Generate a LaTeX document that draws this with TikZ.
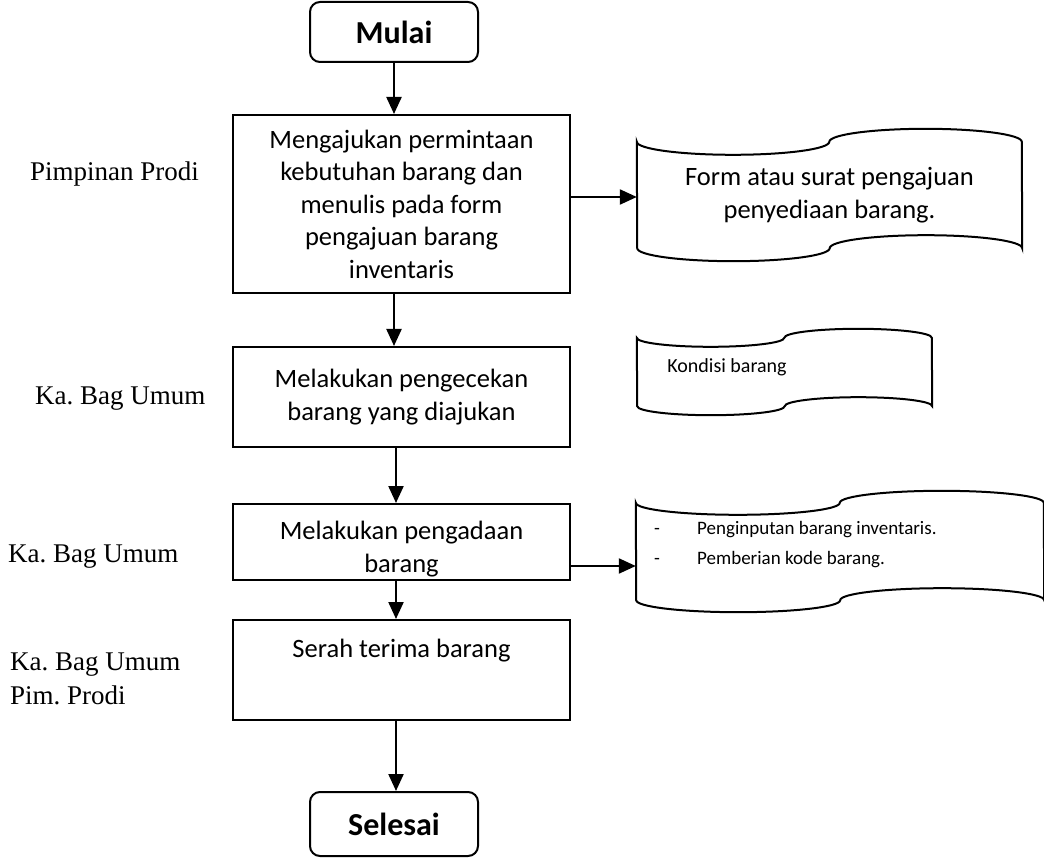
\documentclass[tikz,border=0pt]{standalone}
\usepackage{fontspec}
\setmainfont{Carlito}
\newfontfamily\rolefont{Liberation Serif}
\usetikzlibrary{arrows.meta}
\frenchspacing

% outline of a punched-tape document drawn around a node: #2 = quarter width, #3 = wave depth
\newcommand\tapeoutline[3]{%
  \draw[line width=2pt] (#1.north west)
    arc[start angle=180,end angle=360,x radius=#2pt,y radius=#3pt]
    arc[start angle=180,end angle=0,x radius=#2pt,y radius=#3pt]
    -- (#1.south east)
    arc[start angle=0,end angle=180,x radius=#2pt,y radius=#3pt]
    arc[start angle=0,end angle=-180,x radius=#2pt,y radius=#3pt]
    -- cycle;}

\begin{document}
\begin{tikzpicture}[x=1pt,y=-1pt,
  box/.style={draw, line width=2pt, rectangle, inner sep=0pt, align=center,
    font=\fontsize{26.5}{32.5}\selectfont},
  boxtext/.style={inner sep=0pt, align=center, font=\fontsize{26.5}{32.5}\selectfont},
  term/.style={draw, line width=2pt, rounded corners=10pt, inner sep=0pt,
    font=\fontsize{32}{38}\selectfont\bfseries},
  docbox/.style={inner sep=0pt, align=center},
  role/.style={anchor=base west, inner sep=0pt, align=left,
    font=\rolefont\fontsize{27}{34}\selectfont},
  arr/.style={line width=2.2pt, -{Triangle[length=17pt,width=15pt]}},
]
\useasboundingbox (0,0) rectangle (1044,866);
\fill[white] (0,0) rectangle (1044,866);
\clip (0,0) rectangle (1044,866);

% process column
\node[term, minimum width=168pt, minimum height=60pt] (m) at (394,32) {Mulai};
\node[box, minimum width=337pt, minimum height=178pt] (b1) at (401.5,204)
  {Mengajukan permintaan\\kebutuhan barang dan\\menulis pada form\\pengajuan barang\\inventaris};
\node[box, minimum width=337pt, minimum height=100pt] (b2) at (401.5,397)
  {Melakukan pengecekan\\barang yang diajukan};
\node[box, minimum width=337pt, minimum height=76pt] (b3) at (401.5,542) {};
\node[boxtext] (b3t) at (401.5,549) {Melakukan pengadaan\\barang};
\node[box, minimum width=337pt, minimum height=100pt] (b4) at (401.5,670) {};
\node[boxtext, anchor=north] (b4t) at ([yshift=-20pt]b4.north) {Serah terima barang};
\node[term, minimum width=168pt, minimum height=64pt] (s) at (394,824) {Selesai};

% documents
\node[docbox, minimum width=385pt, minimum height=106pt, font=\fontsize{26.5}{32.5}\selectfont]
  (d1) at (829.5,195) {Form atau surat pengajuan\\penyediaan barang.};
\tapeoutline{d1}{96.25}{13}
\node[docbox, minimum width=295pt, minimum height=68pt] (d2) at (784.5,372) {};
\tapeoutline{d2}{73.75}{9}
\node[inner sep=0pt, font=\fontsize{20}{24}\selectfont] (d2t) at (727,367) {Kondisi barang};
\node[docbox, minimum width=408pt, minimum height=97pt] (d3) at (840,551.5) {};
\tapeoutline{d3}{102}{12}
\node[anchor=base west, inner sep=0pt, font=\fontsize{19}{23}\selectfont] (d3t) at (654,534)
  {\begin{tabular}[t]{@{}p{43pt}@{}l@{}}-&Penginputan barang inventaris.\\[7pt]-&Pemberian kode barang.\end{tabular}};

% responsible parties
\node[role] (r1) at (30,181) {Pimpinan Prodi};
\node[role] (r2) at (35,404) {Ka. Bag Umum};
\node[role] (r3) at (8,562) {Ka. Bag Umum};
\node[role] (r4) at (10,704) {Ka. Bag Umum\\Pim. Prodi};

% connectors
\draw[arr] (m.south) -- (m.south |- b1.north);
\draw[arr] (m.south |- b1.south) -- (m.south |- b2.north);
\draw[arr] ([xshift=2pt]m.south |- b2.south) -- ([xshift=2pt]m.south |- b3.north);
\draw[arr] ([xshift=2pt]m.south |- b3.south) -- ([xshift=2pt]m.south |- b4.north);
\draw[arr] ([xshift=2pt]m.south |- b4.south) -- ([xshift=2pt]m.south |- s.north);
\draw[arr] ([yshift=-2pt]b1.east |- d1.west) -- ([yshift=-2pt]d1.west);
\draw[arr] ([yshift=-14.5pt]b3.east |- d3.west) -- ([yshift=-14.5pt]d3.west);
\end{tikzpicture}
\end{document}
